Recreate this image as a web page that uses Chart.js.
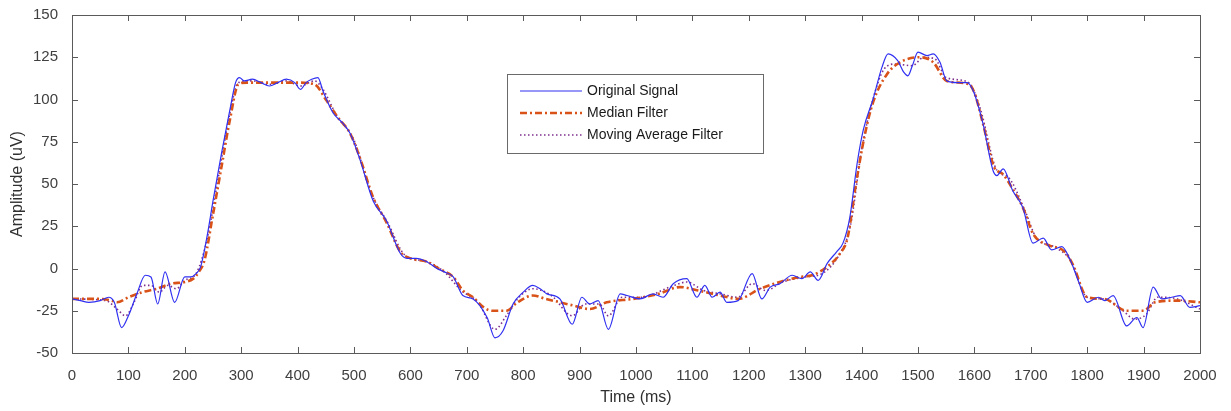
<!DOCTYPE html>
<html lang="en">
<head>
<meta charset="utf-8">
<title>Signal filtering</title>
<script src="https://cdn.jsdelivr.net/npm/chart.js@4.4.1/dist/chart.umd.min.js"></script>
<style>
  html, body { margin: 0; padding: 0; background: #fff; }
  #chart { display: block; }
</style>
</head>
<body>
<canvas id="chart" width="1231" height="411"></canvas>
<script>
// original signal (time ms / amplitude uV)
const origTime = [0,15,30,50,65,75,88,100,115,130,140,152,165,182,200,210,220,228,240,250,265,280,290,297,305,320,335,350,365,380,395,405,415,425,436,445,463,480,493,511,534,558,582,594,610,629,647,660,676,693,711,736,750,764,782,800,817,830,842,865,887,904,918,933,951,972,984,1007,1030,1048,1066,1090,1108,1122,1135,1149,1161,1181,1206,1223,1238,1255,1277,1294,1309,1323,1339,1356,1367,1379,1392,1403,1421,1436,1447,1464,1475,1482,1490,1500,1516,1527,1539,1551,1570,1587,1598,1615,1633,1640,1651,1668,1686,1704,1722,1737,1755,1770,1785,1800,1820,1831,1846,1870,1888,1899,1917,1932,1950,1965,1982,2000];
const origAmp = [-18,-19,-20,-19,-17,-20,-35,-28,-15,-4,-5,-21,-2,-20,-5,-5,-3,1,20,40,68,94,110,113,111,112,110,108,110,112,110,106,110,112,113,105,92,86,80,64,40,28,9,6,6,4,0,-2,-5,-16,-18,-29,-41,-37,-21,-14,-10,-12,-15,-18,-33,-17,-21,-19,-36,-15,-16,-18,-15,-17,-9,-6,-17,-10,-17,-14,-20,-19,-3,-18,-11,-9,-4,-6,-2,-7,3,10,15,30,62,82,101,119,127,123,116,114,120,128,126,127,122,111,110,110,105,86,58,55,59,46,36,15,18,11,13,5,-8,-20,-17,-19,-16,-34,-29,-35,-11,-18,-17,-16,-23,-22];

// median filter
const medTime = [0,50,70,80,100,125,150,175,200,215,225,235,250,265,280,295,310,350,400,430,450,470,493,511,534,558,582,600,630,650,676,693,711,730,745,770,790,817,840,865,890,918,948,995,1040,1078,1110,1149,1181,1220,1255,1290,1312,1339,1362,1375,1390,1405,1420,1445,1468,1504,1527,1551,1590,1600,1615,1635,1650,1668,1686,1705,1730,1760,1775,1800,1830,1870,1900,1920,1960,2000];
const medAmp = [-18,-18,-19,-20,-17,-14,-12,-9,-8,-6,-2,5,32,60,88,109,110,110,110,109,100,90,80,65,42,27,10,6,4,0,-5,-13,-17,-23,-25,-25,-20,-16,-18,-20,-22,-24,-20,-18,-15,-11,-13,-16,-18,-12,-8,-5,-4,1,9,18,50,78,98,115,122,125,122,111,109,104,86,60,56,47,36,20,14,10,2,-17,-18,-25,-25,-20,-19,-20];

// moving average filter
const avgTime = [0,60,80,95,110,125,140,155,170,185,200,220,240,260,280,295,320,350,380,405,430,445,470,500,530,560,590,630,660,690,720,750,770,790,817,850,887,910,935,951,975,1010,1060,1090,1120,1150,1180,1206,1230,1260,1300,1330,1360,1380,1400,1420,1440,1460,1490,1510,1530,1550,1590,1610,1640,1660,1690,1710,1740,1770,1800,1830,1860,1885,1905,1925,1960,2000];
const avgAmp = [-18,-19,-24,-28,-20,-10,-10,-14,-10,-12,-7,-3,18,55,92,110,111,109,111,108,111,106,90,76,45,27,8,4,-2,-13,-20,-36,-28,-18,-12,-16,-28,-21,-21,-28,-17,-17,-11,-8,-13,-15,-17,-9,-13,-8,-5,-3,8,25,70,100,118,121,120,125,124,113,110,95,58,54,34,18,13,5,-17,-18,-24,-30,-27,-17,-18,-24];

const xTicks = [0,100,200,300,400,500,600,700,800,900,1000,1100,1200,1300,1400,1500,1600,1700,1800,1900,2000];
const yTicks = [-50,-25,0,25,50,75,100,125,150];

function pairs(t, v) {
    return t.map((x, i) => ({x: x, y: v[i]}));
}

const seriesNames = ["Original Signal", "Median Filter", "Moving Average Filter"];

// box round the plot, ticks pointing inward, legend inside
const framePlugin = {
    id: "frame",
    afterDraw(chart) {
        const ctx = chart.ctx;
        const a = chart.chartArea;
        const xs = chart.scales.x, ys = chart.scales.y;
        ctx.save();
        ctx.strokeStyle = "#5a5a5a";
        ctx.lineWidth = 1;
        ctx.strokeRect(a.left + 0.5, a.top + 0.5, a.right - a.left, a.bottom - a.top);
        ctx.beginPath();
        xTicks.forEach(v => {
            const p = Math.round(xs.getPixelForValue(v)) + 0.5;
            ctx.moveTo(p, a.bottom); ctx.lineTo(p, a.bottom - 6);
            ctx.moveTo(p, a.top); ctx.lineTo(p, a.top + 6);
        });
        yTicks.forEach(v => {
            const p = Math.round(ys.getPixelForValue(v)) + 0.5;
            ctx.moveTo(a.left, p); ctx.lineTo(a.left + 6, p);
            ctx.moveTo(a.right, p); ctx.lineTo(a.right - 6, p);
        });
        ctx.stroke();

        // legend
        const lx = 507, ly = 74, lw = 256, lh = 79;
        ctx.fillStyle = "#fff";
        ctx.fillRect(lx, ly, lw, lh);
        ctx.strokeStyle = "#6a6a6a";
        ctx.strokeRect(lx + 0.5, ly + 0.5, lw, lh);
        ctx.font = "14px 'Liberation Sans', Arial, sans-serif";
        ctx.textBaseline = "middle";
        chart.data.datasets.forEach((ds, i) => {
            const y = ly + 17 + i * 22;
            ctx.strokeStyle = ds.borderColor;
            ctx.lineWidth = ds.borderWidth;
            ctx.setLineDash(ds.borderDash || []);
            ctx.beginPath();
            ctx.moveTo(lx + 13, y); ctx.lineTo(lx + 75, y);
            ctx.stroke();
            ctx.setLineDash([]);
            ctx.fillStyle = "#1a1a1a";
            ctx.fillText(ds.label, lx + 80, y);
        });
        ctx.restore();
    }
};

new Chart("chart", {
    type: "line",
    data: {
        datasets: [
            {
                label: seriesNames[0],
                data: pairs(origTime, origAmp),
                borderColor: "#3030f2",
                borderWidth: 1.2,
                pointRadius: 0,
                cubicInterpolationMode: "monotone"
            },
            {
                label: seriesNames[1],
                data: pairs(medTime, medAmp),
                borderColor: "#d95319",
                borderWidth: 2.6,
                borderDash: [7, 3, 2, 3],
                pointRadius: 0,
                cubicInterpolationMode: "monotone"
            },
            {
                label: seriesNames[2],
                data: pairs(avgTime, avgAmp),
                borderColor: "#7e2f8e",
                borderWidth: 1.6,
                borderDash: [1.5, 2.5],
                pointRadius: 0,
                cubicInterpolationMode: "monotone"
            }
        ]
    },
    options: {
        responsive: false,
        animation: false,
        layout: {padding: {top: 15, right: 31, left: 0, bottom: 0}},
        plugins: {
            legend: {display: false},
            tooltip: {enabled: false}
        },
        scales: {
            x: {
                type: "linear",
                min: 0,
                max: 2000,
                afterFit: s => { s.height = 58; },
                afterBuildTicks: s => { s.ticks = xTicks.map(v => ({value: v})); },
                grid: {display: false},
                border: {display: false},
                ticks: {
                    color: "#404040",
                    font: {size: 15, family: "'Liberation Sans', Arial, sans-serif"},
                    maxRotation: 0,
                    autoSkip: false,
                    padding: 6,
                    callback: v => String(v)
                },
                title: {
                    display: true,
                    text: "Time (ms)",
                    color: "#303030",
                    font: {size: 16, family: "'Liberation Sans', Arial, sans-serif"},
                    padding: {top: 2}
                }
            },
            y: {
                min: -50,
                max: 150,
                afterFit: s => { s.width = 72; },
                afterBuildTicks: s => { s.ticks = yTicks.map(v => ({value: v})); },
                grid: {display: false},
                border: {display: false},
                ticks: {
                    color: "#404040",
                    font: {size: 15, family: "'Liberation Sans', Arial, sans-serif"},
                    padding: 6,
                    callback: v => String(v)
                },
                title: {
                    display: true,
                    text: "Amplitude (uV)",
                    color: "#303030",
                    font: {size: 16, family: "'Liberation Sans', Arial, sans-serif"},
                    padding: {top: 8, bottom: 0}
                }
            }
        }
    },
    plugins: [framePlugin]
});
</script>
</body>
</html>
